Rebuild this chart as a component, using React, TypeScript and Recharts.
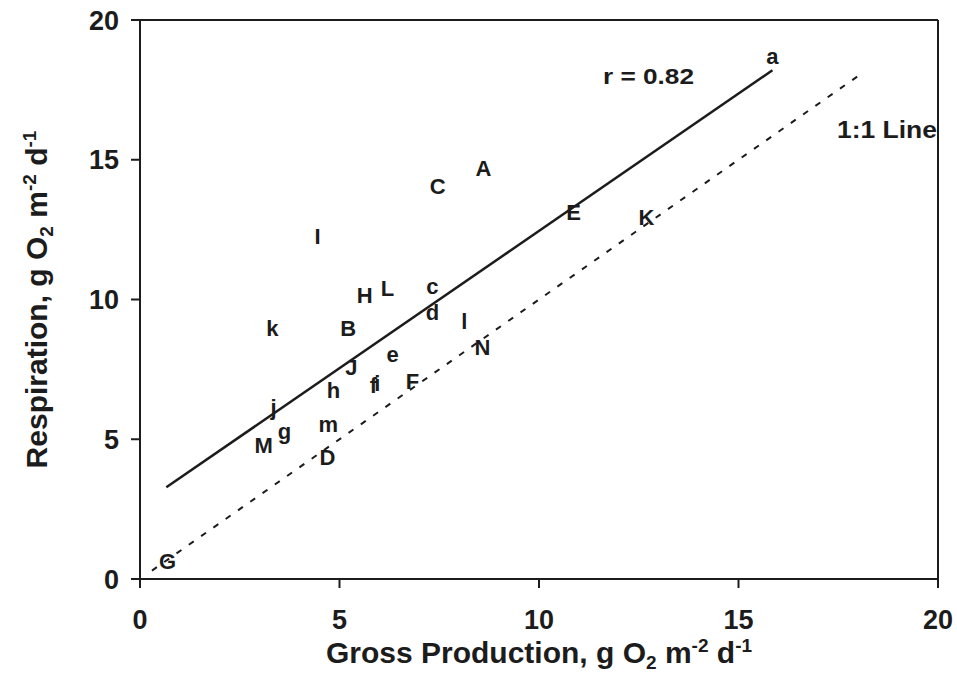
import { ScatterChart, Scatter, XAxis, YAxis, ReferenceLine } from 'recharts'

// site codes and their values
const siteCodes = ['a', 'A', 'C', 'E', 'K', 'I', 'H', 'L', 'c', 'd', 'k', 'B', 'l', 'N', 'e', 'J', 'f', 'i', 'F', 'h', 'j', 'm', 'g', 'M', 'D', 'G']
const grossProduction = [15.85, 8.61, 7.46, 10.87, 12.69, 4.45, 5.63, 6.2, 7.33, 7.33, 3.32, 5.22, 8.13, 8.58, 6.33, 5.3, 5.85, 5.95, 6.83, 4.85, 3.35, 4.72, 3.62, 3.1, 4.7, 0.69]
const respiration = [18.68, 14.67, 14.06, 13.13, 12.92, 12.27, 10.13, 10.38, 10.45, 9.52, 8.98, 8.98, 9.23, 8.3, 8.05, 7.55, 6.91, 6.98, 7.05, 6.73, 6.12, 5.51, 5.26, 4.79, 4.36, 0.64]

// fitted regression line endpoints
const fitX = [0.66, 15.85]
const fitY = [3.28, 18.2]
// 1:1 line endpoints
const oneToOne = [0.3, 18.05]

const axisTicks = [0, 5, 10, 15, 20]

const INK = '#1c1c1c'
const FONT = '"Liberation Sans", Arial, sans-serif'

const points = siteCodes.map((code, i) => ({ x: grossProduction[i], y: respiration[i], code }))

const LetterMark = (props: any) => {
  const { cx, cy, payload } = props
  return (
    <text x={cx} y={cy} textAnchor="middle" dominantBaseline="central"
      fontFamily={FONT} fontWeight="bold" fontSize={22} fill={INK}>
      {payload.code}
    </text>
  )
}

const unitsTail = () => (
  <>
    , g O<tspan fontSize={19} dy={6}>2</tspan>
    <tspan dy={-6}> m</tspan><tspan fontSize={19} dy={-11}>-2</tspan>
    <tspan dy={11}> d</tspan><tspan fontSize={19} dy={-11}>-1</tspan>
  </>
)

const XTitle = (props: any) => {
  const { x, y, width } = props.viewBox
  return (
    <text x={x + width / 2} y={y + 84} textAnchor="middle" fontFamily={FONT} fontWeight="bold" fontSize={30} fill={INK}>
      Gross Production{unitsTail()}
    </text>
  )
}

const YTitle = (props: any) => {
  const { y, height } = props.viewBox
  const cx = 47
  const cy = y + height / 2
  return (
    <text x={cx} y={cy} transform={`rotate(-90 ${cx} ${cy})`} textAnchor="middle"
      fontFamily={FONT} fontWeight="bold" fontSize={30} fill={INK}>
      Respiration{unitsTail()}
    </text>
  )
}

export default function App() {
  const tickStyle = { fontFamily: FONT, fontWeight: 'bold', fontSize: 27, fill: INK }
  return (
    <div style={{ position: 'absolute', left: 0, top: 0, background: '#fff' }}>
      <ScatterChart width={957} height={680} margin={{ top: 20, right: 19, bottom: 0, left: 0 }}>
        <XAxis type="number" dataKey="x" domain={[0, 20]} ticks={axisTicks} tickSize={9} tickMargin={22}
          axisLine={{ stroke: INK, strokeWidth: 2 }} tickLine={{ stroke: INK, strokeWidth: 2 }}
          tick={tickStyle} height={101} label={{ content: XTitle }} />
        <YAxis type="number" dataKey="y" domain={[0, 20]} ticks={axisTicks} tickSize={9} tickMargin={12}
          axisLine={{ stroke: INK, strokeWidth: 2 }} tickLine={{ stroke: INK, strokeWidth: 2 }}
          tick={tickStyle} width={140} label={{ content: YTitle }} />
        <ReferenceLine y={20} stroke={INK} strokeWidth={2} />
        <ReferenceLine x={20} stroke={INK} strokeWidth={2} />
        <ReferenceLine segment={[{ x: fitX[0], y: fitY[0] }, { x: fitX[1], y: fitY[1] }]}
          stroke={INK} strokeWidth={2.5} />
        <ReferenceLine segment={[{ x: oneToOne[0], y: oneToOne[0] }, { x: oneToOne[1], y: oneToOne[1] }]}
          stroke={INK} strokeWidth={2} strokeDasharray="6 9" />
        <Scatter data={points} shape={LetterMark} isAnimationActive={false} />
        <text x={603} y={84} textLength={91} lengthAdjust="spacingAndGlyphs" fontFamily={FONT} fontWeight="bold" fontSize={22} fill={INK}>r = 0.82</text>
        <text x={837} y={138} textLength={100} lengthAdjust="spacingAndGlyphs" fontFamily={FONT} fontWeight="bold" fontSize={23} fill={INK}>1:1 Line</text>
      </ScatterChart>
    </div>
  )
}
